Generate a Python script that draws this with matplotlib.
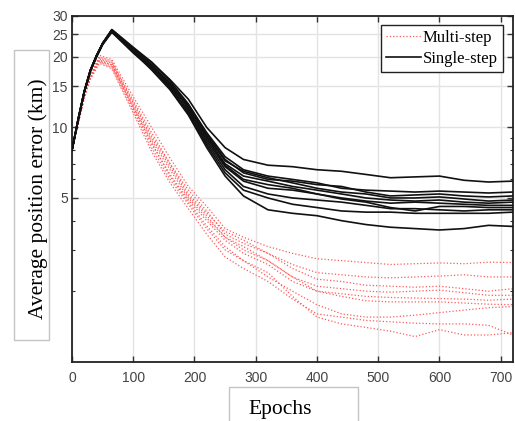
import matplotlib
matplotlib.use("Agg")
from matplotlib import pyplot as plt
from matplotlib.patches import Rectangle
from matplotlib.ticker import FixedLocator, NullFormatter

black_epochs = [0, 10, 20, 30, 40, 50, 65, 100, 130, 160, 190, 220, 250, 280,
                320, 360, 400, 440, 480, 520, 560, 600, 640, 680, 720]
red_epochs = [0, 10, 20, 30, 45, 65, 100, 130, 160, 190, 220, 250, 280,
              320, 360, 400, 440, 480, 520, 560, 600, 640, 680, 720]

# single-step runs (average position error, km)
single_step = [
    [8.0, 10.8, 14.3, 17.6, 20.3, 22.9, 26.2, 22.0, 19.0, 16.0, 13.2, 10.0, 8.2, 7.3,
     6.9, 6.8, 6.6, 6.5, 6.3, 6.1, 6.15, 6.2, 5.95, 5.85, 5.9],
    [8.0, 10.8, 14.2, 17.5, 20.2, 22.8, 26.0, 21.5, 18.5, 15.5, 12.5, 9.5, 7.5, 6.6,
     6.2, 6.0, 5.8, 5.5, 5.4, 5.35, 5.3, 5.35, 5.3, 5.25, 5.3],
    [8.0, 10.7, 14.1, 17.4, 20.1, 22.9, 26.1, 21.8, 19.0, 15.8, 12.6, 9.4, 7.3, 6.4,
     6.0, 5.9, 5.7, 5.6, 5.3, 5.1, 5.15, 5.2, 5.1, 5.05, 5.1],
    [8.0, 10.8, 14.2, 17.5, 20.2, 22.7, 25.8, 21.3, 18.3, 15.2, 12.2, 9.2, 7.2, 6.5,
     6.1, 5.8, 5.5, 5.3, 5.2, 5.0, 5.0, 5.05, 4.95, 4.85, 4.9],
    [8.0, 10.9, 14.3, 17.6, 20.3, 22.8, 26.0, 21.6, 18.6, 15.4, 12.0, 9.0, 7.0, 6.2,
     5.9, 5.6, 5.4, 5.2, 5.0, 4.9, 4.85, 4.9, 4.8, 4.75, 4.8],
    [8.0, 10.7, 14.1, 17.4, 20.0, 22.6, 25.6, 21.0, 18.0, 15.0, 12.4, 9.1, 6.9, 6.0,
     5.7, 5.5, 5.2, 5.0, 4.85, 4.75, 4.8, 4.75, 4.7, 4.65, 4.65],
    [8.0, 10.8, 14.2, 17.5, 20.2, 22.8, 25.9, 21.4, 18.4, 14.8, 11.8, 8.8, 6.8, 5.9,
     5.5, 5.4, 5.2, 4.95, 4.8, 4.55, 4.4, 4.6, 4.6, 4.55, 4.55],
    [8.0, 10.8, 14.2, 17.5, 20.1, 22.7, 25.7, 21.2, 18.1, 15.1, 11.6, 8.6, 6.6, 5.6,
     5.2, 5.0, 4.9, 4.8, 4.65, 4.5, 4.5, 4.45, 4.4, 4.45, 4.45],
    [8.0, 10.7, 14.1, 17.4, 20.0, 22.6, 25.5, 20.8, 17.8, 14.6, 11.4, 8.4, 6.4, 5.4,
     5.0, 4.7, 4.55, 4.4, 4.35, 4.35, 4.3, 4.3, 4.3, 4.3, 4.35],
    [8.0, 10.8, 14.2, 17.5, 20.2, 22.8, 25.9, 21.0, 17.6, 14.5, 11.3, 8.2, 6.2, 5.1,
     4.45, 4.3, 4.2, 4.0, 3.85, 3.75, 3.7, 3.65, 3.7, 3.82, 3.78],
]

# multi-step runs
multi_step = [
    [8.0, 10.6, 13.8, 16.8, 20.3, 19.5, 13.5, 10.0, 7.4, 5.6, 4.6, 3.7, 3.4,
     3.1, 2.9, 2.75, 2.7, 2.65, 2.6, 2.62, 2.64, 2.62, 2.66, 2.65],
    [8.0, 10.5, 13.6, 16.6, 19.8, 19.0, 13.0, 9.5, 7.0, 5.4, 4.4, 3.5, 3.2,
     2.9, 2.6, 2.4, 2.35, 2.3, 2.28, 2.3, 2.32, 2.35, 2.3, 2.3],
    [8.0, 10.5, 13.5, 16.4, 19.4, 18.5, 12.8, 9.2, 7.0, 5.2, 4.3, 3.6, 3.3,
     2.9, 2.5, 2.25, 2.2, 2.12, 2.1, 2.08, 2.1, 2.05, 2.0, 2.05],
    [8.0, 10.4, 13.4, 16.3, 19.2, 18.2, 12.3, 8.8, 6.6, 5.0, 4.1, 3.4, 3.1,
     2.7, 2.3, 2.1, 2.05, 2.0, 1.98, 2.0, 2.02, 1.97, 1.92, 1.92],
    [8.0, 10.5, 13.6, 16.6, 19.6, 18.8, 12.0, 8.5, 6.3, 4.9, 4.0, 3.3, 2.9,
     2.6, 2.2, 2.0, 1.95, 1.9, 1.88, 1.87, 1.86, 1.85, 1.83, 1.85],
    [8.0, 10.4, 13.4, 16.2, 19.0, 18.0, 11.8, 8.2, 6.0, 4.7, 3.7, 3.0, 2.7,
     2.3, 2.0, 1.75, 1.6, 1.55, 1.55, 1.58, 1.62, 1.66, 1.7, 1.72],
    [8.0, 10.4, 13.3, 16.1, 18.8, 17.8, 11.5, 7.9, 5.8, 4.5, 3.5, 2.8, 2.5,
     2.2, 1.85, 1.6, 1.55, 1.5, 1.48, 1.46, 1.45, 1.45, 1.43, 1.3],
    [8.0, 10.5, 13.5, 16.4, 19.3, 18.5, 12.2, 8.6, 6.2, 4.8, 3.8, 3.1, 2.7,
     2.4, 1.9, 1.55, 1.45, 1.4, 1.35, 1.28, 1.37, 1.3, 1.3, 1.33],
    [8.0, 10.6, 13.7, 16.7, 20.0, 19.2, 12.6, 9.0, 6.8, 5.1, 4.2, 3.4, 3.0,
     2.7, 2.3, 2.0, 1.9, 1.82, 1.8, 1.8, 1.8, 1.78, 1.76, 1.75],
]

x_ticks = [0, 100, 200, 300, 400, 500, 600, 700]
y_ticks = [5, 10, 15, 20, 25, 30]
y_minor = [2, 3, 4, 6, 7, 8, 9]

fig = plt.figure(figsize=(5.15, 4.21), dpi=100)
ax = fig.add_axes([0.1398, 0.1409, 0.8563, 0.8218])

for i, run in enumerate(multi_step):
    ax.plot(red_epochs, run, color="#ff5a5a", linestyle=":", linewidth=0.9,
            label="Multi-step" if i == 0 else None, zorder=2)
for i, run in enumerate(single_step):
    ax.plot(black_epochs, run, color="#111111", linestyle="-", linewidth=1.2,
            label="Single-step" if i == 0 else None, zorder=3)

ax.set_yscale("log")
ax.set_xlim(0, 720)
ax.set_ylim(1, 30)
ax.set_xticks(x_ticks)
ax.set_xticklabels([str(t) for t in x_ticks])
ax.yaxis.set_major_locator(FixedLocator(y_ticks))
ax.set_yticklabels([str(t) for t in y_ticks])
ax.yaxis.set_minor_locator(FixedLocator(y_minor))
ax.yaxis.set_minor_formatter(NullFormatter())

ax.grid(True, which="major", color="#e3e3e3", linewidth=1.0, zorder=0)
ax.set_axisbelow(True)
ax.tick_params(which="both", direction="in", top=True, right=True,
               colors="#333333", labelcolor="#444444", labelsize=10)
ax.tick_params(which="major", length=4, width=1)
ax.tick_params(which="minor", length=2.5, width=0.8)
ax.tick_params(axis="x", pad=7)
ax.tick_params(axis="y", pad=3)
for lab in ax.get_xticklabels() + ax.get_yticklabels():
    lab.set_family("Liberation Sans")
for sp in ax.spines.values():
    sp.set_color("#222222")
    sp.set_linewidth(1.3)

leg = ax.legend(loc="upper right", bbox_to_anchor=(0.977, 0.973),
                borderaxespad=0, fancybox=False, framealpha=1,
                edgecolor="#222222", handlelength=2.1, handletextpad=0.1,
                borderpad=0.3, labelspacing=0.3,
                prop={"family": "Liberation Serif", "size": 12})
leg.get_frame().set_linewidth(1.0)

# boxed axis titles
fig.patches.append(Rectangle((0.0272, 0.1924), 0.068, 0.689, transform=fig.transFigure,
                             fill=False, edgecolor="#c4c4c4", linewidth=1))
fig.text(0.074, 0.527, "Average position error (km)", rotation=90,
         ha="center", va="center", family="Liberation Serif", fontsize=15.5)
fig.patches.append(Rectangle((0.4447, -0.01), 0.2505, 0.0908, transform=fig.transFigure,
                             fill=False, edgecolor="#c4c4c4", linewidth=1))
fig.text(0.4816, 0.028, "Epochs", ha="left", va="center",
         family="Liberation Serif", fontsize=15.5)

fig.savefig("out.png", dpi=100)
